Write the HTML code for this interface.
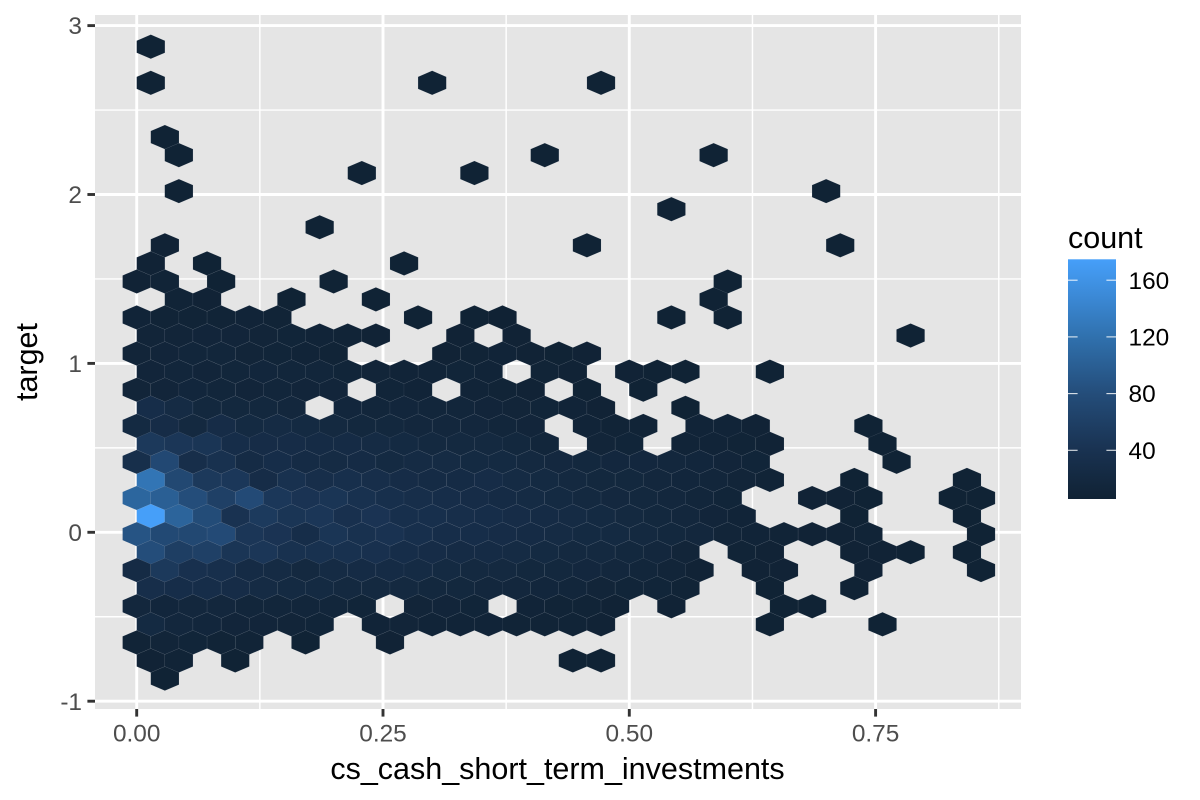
<!DOCTYPE html>
<html lang="en">
<head>
<meta charset="utf-8">
<title>Hexbin of target against cs_cash_short_term_investments</title>
<style>
html,body{margin:0;padding:0;background:#fff;}
svg{display:block;font-family:"Liberation Sans",Arial,sans-serif;}
</style>
</head>
<body>
<svg id="chart" xmlns="http://www.w3.org/2000/svg" width="1200" height="800" viewBox="0 0 1200 800">
  <defs>
    <linearGradient id="count-gradient" x1="0" y1="1" x2="0" y2="0"></linearGradient>
  </defs>
  <rect x="0" y="0" width="1200" height="800" fill="#ffffff"></rect>
  <rect x="95" y="15" width="926" height="694" fill="#e5e5e5"></rect>
  <g id="grid"></g>
  <g id="hexes"></g>
  <g id="x-axis"></g>
  <g id="y-axis"></g>
  <text x="557.5" y="779" font-size="30.5" fill="#000" text-anchor="middle">cs_cash_short_term_investments</text>
  <text transform="translate(37 362) rotate(-90)" font-size="30.5" fill="#000" text-anchor="middle">target</text>
  <g id="legend">
    <text x="1068" y="248" font-size="30.5" fill="#000">count</text>
    <rect x="1068" y="259.3" width="48" height="239.7" fill="url(#count-gradient)"></rect>
  </g>
</svg>
<script>
// x-axis value of each hexagon column
const cashBins = [0,0.0143,0.0286,0.0428,0.0571,0.0714,0.0857,0.1000,0.1143,0.1285,0.1428,0.1571,0.1714,0.1857,0.1999,0.2142,0.2285,0.2428,0.2571,0.2714,0.2856,0.2999,0.3142,0.3285,0.3428,0.3571,0.3713,0.3856,0.3999,0.4142,0.4285,0.4427,0.4570,0.4713,0.4856,0.4999,0.5142,0.5284,0.5427,0.5570,0.5713,0.5856,0.5999,0.6141,0.6284,0.6427,0.6570,0.6713,0.6856,0.6998,0.7141,0.7284,0.7427,0.7570,0.7713,0.7855,0.7998,0.8141,0.8284,0.8427,0.8570,0.8712];
// y-axis value of each hexagon row
const targetBins = [2.875,2.768,2.661,2.554,2.447,2.340,2.233,2.127,2.020,1.913,1.806,1.699,1.592,1.485,1.379,1.272,1.165,1.058,0.951,0.844,0.737,0.630,0.524,0.417,0.310,0.203,0.096,-0.011,-0.118,-0.224,-0.331,-0.438,-0.545,-0.652,-0.759,-0.866];
// counts per row; rows alternate between odd and even columns; 0 = empty bin
const hexCounts = [
[7],
[],
[7,0,0,0,0,0,0,0,0,0,7,0,0,0,0,0,7],
[],
[],
[0,7],
[0,7,0,0,0,0,0,0,0,0,0,0,0,0,7,0,0,0,0,0,7],
[0,0,0,0,0,0,0,0,7,0,0,0,7],
[0,7,0,0,0,0,0,0,0,0,0,0,0,0,0,0,0,0,0,0,0,0,0,0,7],
[0,0,0,0,0,0,0,0,0,0,0,0,0,0,0,0,0,0,0,7],
[0,0,0,0,0,0,7],
[0,8,0,0,0,0,0,0,0,0,0,0,0,0,0,0,7,0,0,0,0,0,0,0,0,7],
[8,0,7,0,0,0,0,0,0,7],
[8,9,0,7,0,0,0,7,0,0,0,0,0,0,0,0,0,0,0,0,0,7],
[0,9,8,0,0,7,0,0,7,0,0,0,0,0,0,0,0,0,0,0,7],
[10,9,9,9,10,9,0,0,0,0,7,0,7,6,0,0,0,0,0,7,0,7],
[12,12,13,13,12,11,10,9,8,0,0,8,0,8,0,0,0,0,0,0,0,0,0,0,0,0,0,7],
[12,13,14,14,12,11,10,9,0,0,0,8,9,10,8,7,8],
[13,14,13,14,15,14,14,11,12,10,10,11,10,0,9,8,0,8,7,7,0,0,7],
[12,13,15,14,13,14,13,13,0,11,10,0,10,9,8,0,7,0,7],
[30,24,18,18,18,16,0,15,14,15,14,14,13,12,11,10,8,0,0,7],
[22,28,20,28,22,24,22,20,18,18,16,16,16,14,13,0,10,9,9,0,10,10,8,0,0,0,7],
[50,46,44,30,28,28,26,26,24,22,20,20,20,18,14,0,12,11,0,10,10,9,8,0,0,0,7],
[33,73,32,38,26,30,26,24,26,22,24,24,22,22,20,19,18,17,17,16,15,13,11,0,0,0,0,7],
[125,72,50,48,28,38,32,34,32,28,26,26,28,24,22,20,18,18,16,15,14,12,9,0,0,7,0,0,0,7],
[108,100,80,60,76,48,42,44,38,34,32,30,28,26,24,22,20,19,18,16,14,11,0,0,8,8,7,0,0,7,7],
[175,105,78,40,52,44,46,36,42,34,34,32,30,28,26,24,22,20,18,16,13,10,0,0,0,7,0,0,0,7],
[88,74,72,76,46,42,30,44,38,40,34,30,30,28,26,24,22,22,20,18,16,12,10,9,8,8,9,0,0,0,7],
[80,58,60,44,46,38,38,38,36,30,28,26,26,24,22,20,20,18,16,12,0,9,8,0,0,8,8,7,0,7],
[26,50,36,34,26,24,20,24,26,26,24,22,20,20,18,18,17,16,14,12,8,0,8,8,0,0,8,0,0,0,7],
[32,30,30,28,24,22,22,20,20,20,18,18,16,16,15,14,12,11,11,9,0,0,7,0,0,7],
[16,15,16,16,14,14,14,14,11,0,12,13,11,0,10,9,9,8,0,8,0,0,0,7,7],
[22,16,15,13,13,12,11,0,10,12,10,10,10,9,9,9,8,0,0,0,0,0,7,0,0,0,7],
[9,12,11,9,9,0,7,0,0,8],
[8,9,0,7,0,0,0,0,0,0,0,0,0,0,0,7,7],
[0,7]
];
const xTickValues = [0,0.25,0.5,0.75];
const xTickLabels = ["0.00","0.25","0.50","0.75"];
const xMinorValues = [0.125,0.375,0.625,0.875];
const yTickValues = [-1,0,1,2,3];
const yTickLabels = ["-1","0","1","2","3"];
const yMinorValues = [-0.5,0.5,1.5,2.5];
const legendTickValues = [40,80,120,160];
const legendTickLabels = ["40","80","120","160"];
const colorCounts = [5.6,40,80,120,160,174.6];
const colorValues = ["#102234","#193251","#244d7a","#3071ae","#4093e6","#469ff9"];

const SVG_NS = "http://www.w3.org/2000/svg";
const panel = {left:95, right:1021, top:15, bottom:709};
function xScale(v){ return 136.7 + v * 985.2; }
function yScale(v){ return 532.3 - v * 168.9; }
function legendScale(c){ return 450.3 - (c - 40) * 1.4175; }
function hexRadiusX(){ return (xScale(cashBins[1]) - xScale(cashBins[0])); }
function hexRowStep(){ return Math.abs(yScale(targetBins[1]) - yScale(targetBins[0])); }
function hexToRgb(h){ return [1,3,5].map(function(p){ return parseInt(h.substr(p,2),16); }); }
function countColor(c){
  const n = colorCounts.length;
  if (c <= colorCounts[0]) return colorValues[0];
  if (c >= colorCounts[n-1]) return colorValues[n-1];
  let j = 0;
  while (c > colorCounts[j+1]) j++;
  const t = (c - colorCounts[j]) / (colorCounts[j+1] - colorCounts[j]);
  const a = hexToRgb(colorValues[j]), b = hexToRgb(colorValues[j+1]);
  return "rgb(" + a.map(function(v,k){ return Math.round(v + (b[k]-v)*t); }).join(",") + ")";
}
function make(tag, parent, attrs){
  const el = document.createElementNS(SVG_NS, tag);
  Object.keys(attrs).forEach(function(k){ el.setAttribute(k, attrs[k]); });
  parent.appendChild(el);
  return el;
}

const grid = document.getElementById("grid");
xMinorValues.forEach(function(v){
  const el = make("line", grid, {x1:xScale(v), x2:xScale(v), y1:panel.top, y2:panel.bottom, stroke:"#fff", "stroke-width":1.45});
  
  
});
yMinorValues.forEach(function(v){
  const el = make("line", grid, {x1:panel.left, x2:panel.right, y1:yScale(v), y2:yScale(v), stroke:"#fff", "stroke-width":1.45});
  
  
});
xTickValues.forEach(function(v){
  const el = make("line", grid, {x1:xScale(v), x2:xScale(v), y1:panel.top, y2:panel.bottom, stroke:"#fff", "stroke-width":2.9});
  
  
});
yTickValues.forEach(function(v){
  const el = make("line", grid, {x1:panel.left, x2:panel.right, y1:yScale(v), y2:yScale(v), stroke:"#fff", "stroke-width":2.9});
  
  
});

const hexGroup = document.getElementById("hexes");
hexCounts.forEach(function(row, r){
  row.forEach(function(count, slot){
    if (!count) return;
    const col = 2 * slot + (r % 2 === 0 ? 1 : 0);
    const cx = xScale(cashBins[col]);
    const cy = yScale(targetBins[r]);
    const hw = hexRadiusX();
    const step = hexRowStep();
    const pts = [[0,-step*2/3],[hw,-step/3],[hw,step/3],[0,step*2/3],[-hw,step/3],[-hw,-step/3]]
      .map(function(p){ return (cx+p[0]).toFixed(2) + "," + (cy+p[1]).toFixed(2); }).join(" ");
    const el = make("polygon", hexGroup, {points:pts, fill:countColor(count), stroke:"#9aa3ad", "stroke-opacity":0.16, "stroke-width":0.5});
    
    
  });
});

const xAxis = document.getElementById("x-axis");
xTickValues.forEach(function(v, i){
  const tick = make("line", xAxis, {x1:xScale(v), x2:xScale(v), y1:panel.bottom, y2:panel.bottom+7.6, stroke:"#333", "stroke-width":2.9});
  
  
  const label = make("text", xAxis, {x:xScale(v), y:741.5, "font-size":24.4, fill:"#4d4d4d", "text-anchor":"middle"});
  
  
  label.textContent = xTickLabels[i];
});
const yAxis = document.getElementById("y-axis");
yTickValues.forEach(function(v, i){
  const tick = make("line", yAxis, {x1:panel.left-7.6, x2:panel.left, y1:yScale(v), y2:yScale(v), stroke:"#333", "stroke-width":2.9});
  
  
  const label = make("text", yAxis, {x:82, y:yScale(v)+8.6, "font-size":24.4, fill:"#4d4d4d", "text-anchor":"end"});
  
  
  label.textContent = yTickLabels[i];
});

const gradient = document.getElementById("count-gradient");
colorCounts.forEach(function(c, i){
  const first = colorCounts[0], last = colorCounts[colorCounts.length-1];
  make("stop", gradient, {offset:(c-first)/(last-first), "stop-color":colorValues[i]});
});
const legend = document.getElementById("legend");
legendTickValues.forEach(function(c, i){
  const y = legendScale(c);
  const left = make("line", legend, {x1:1068, x2:1077.6, y1:y, y2:y, stroke:"#fff", "stroke-width":1.1, "stroke-opacity":0.85});
  
  
  const right = make("line", legend, {x1:1106.4, x2:1116, y1:y, y2:y, stroke:"#fff", "stroke-width":1.1, "stroke-opacity":0.85});
  
  
  const label = make("text", legend, {x:1128.5, y:y+8.6, "font-size":24.4, fill:"#000"});
  
  
  label.textContent = legendTickLabels[i];
});
</script>
</body>
</html>
